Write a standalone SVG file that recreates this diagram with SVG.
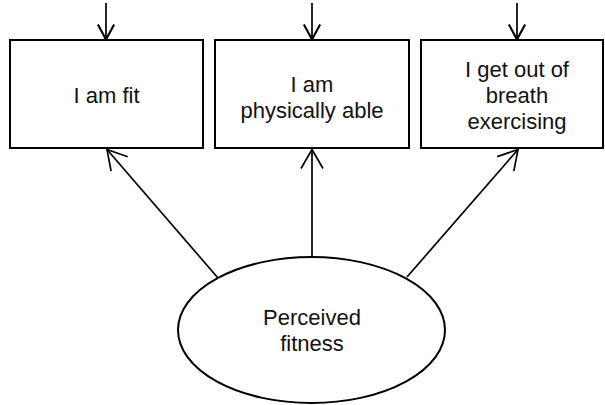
<svg xmlns="http://www.w3.org/2000/svg" width="605" height="405" viewBox="0 0 605 405">
  <style>
    .box { fill: #ffffff; stroke: #000000; stroke-width: 2; }
    .lbl { font-family: "Liberation Sans", Arial, sans-serif; font-size: 22px; fill: #111111; text-anchor: middle; }
    .edge { stroke: #000000; stroke-width: 1.7; fill: none; }
  </style>
  <defs>
    <marker id="headSmall" markerUnits="userSpaceOnUse" markerWidth="20" markerHeight="20" viewBox="-14 -8 16 16" refX="0" refY="0" orient="auto">
      <path d="M-12,-6.5 L0,0 L-12,6.5" fill="none" stroke="#000" stroke-width="1.7"/>
    </marker>
    <marker id="headLarge" markerUnits="userSpaceOnUse" markerWidth="26" markerHeight="26" viewBox="-21 -13 24 26" refX="0" refY="0" orient="auto">
      <path d="M-19,-11 L0,0 L-19,11" fill="none" stroke="#000" stroke-width="1.7"/>
    </marker>
  </defs>

  <!-- connectors -->
  <g id="connectors">
    <line class="edge" x1="106" y1="3" x2="106" y2="39.5" marker-end="url(#headSmall)"/>
    <line class="edge" x1="312" y1="3" x2="312" y2="39.5" marker-end="url(#headSmall)"/>
    <line class="edge" x1="517" y1="3" x2="517" y2="39.5" marker-end="url(#headSmall)"/>
    <line class="edge" x1="218" y1="278" x2="107" y2="149.5" marker-end="url(#headLarge)"/>
    <line class="edge" x1="312" y1="257" x2="312" y2="149.5" marker-end="url(#headLarge)"/>
    <line class="edge" x1="407" y1="277" x2="518" y2="149.5" marker-end="url(#headLarge)"/>
  </g>

  <!-- indicator boxes -->
  <g id="item-fit">
    <rect class="box" x="10" y="40" width="193" height="108"/>
    <text class="lbl" x="106.5" y="103">I am fit</text>
  </g>
  <g id="item-able">
    <rect class="box" x="215" y="40" width="194" height="108"/>
    <text class="lbl" x="312" y="92">I am</text>
    <text class="lbl" x="312" y="118">physically able</text>
  </g>
  <g id="item-breath">
    <rect class="box" x="421" y="40" width="182" height="108"/>
    <text class="lbl" x="517" y="77">I get out of</text>
    <text class="lbl" x="517" y="103">breath</text>
    <text class="lbl" x="517" y="129">exercising</text>
  </g>

  <!-- latent factor -->
  <g id="factor">
    <ellipse class="box" cx="311.5" cy="330" rx="133.5" ry="73"/>
    <text class="lbl" x="312" y="325">Perceived</text>
    <text class="lbl" x="312" y="351">fitness</text>
  </g>
</svg>
